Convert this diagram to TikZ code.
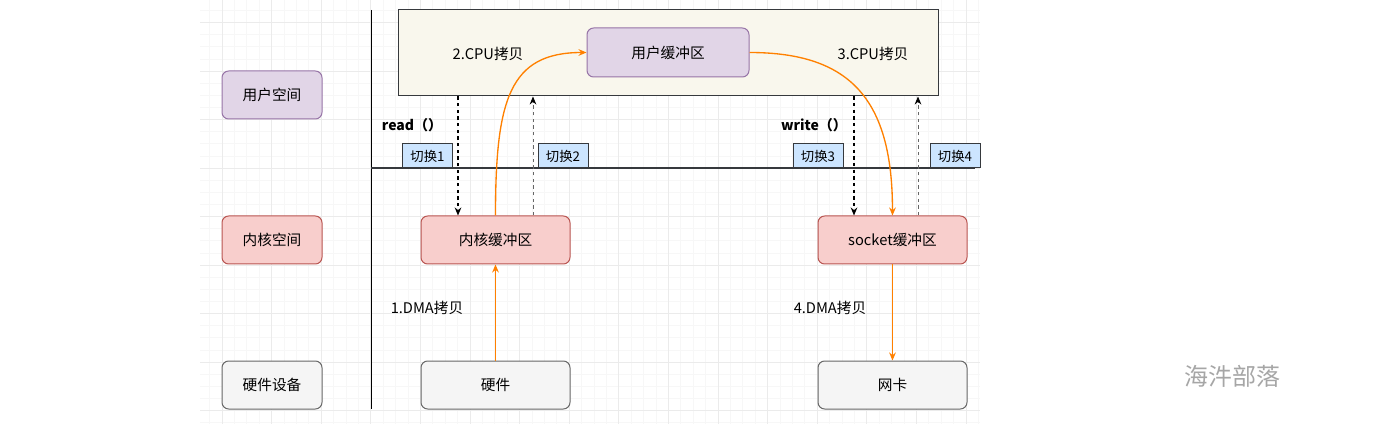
\documentclass[tikz,border=0pt]{standalone}
\usepackage{fontspec}
\setmainfont{Noto Sans CJK SC}
\usetikzlibrary{calc,arrows.meta}
\definecolor{purfill}{HTML}{E1D5E7}\definecolor{purline}{HTML}{9673A6}
\definecolor{redfill}{HTML}{F8CECC}\definecolor{redline}{HTML}{B85450}
\definecolor{grayfill}{HTML}{F5F5F5}\definecolor{grayline}{HTML}{666666}
\definecolor{userfill}{HTML}{F9F7ED}\definecolor{darkline}{HTML}{36393D}
\definecolor{swfill}{HTML}{CCE5FF}\definecolor{copyline}{HTML}{FF8000}

\begin{document}
\begin{tikzpicture}[x=0.75pt, y=-0.75pt, font=\fontsize{11}{13}\selectfont,
  box/.style={rounded corners=5pt, line width=0.75pt, inner sep=0pt, minimum height=36pt},
  lbl/.style={box, minimum width=75pt},
  buf/.style={box, minimum width=111.75pt},
  swbox/.style={draw=darkline, fill=swfill, line width=0.75pt, inner sep=0pt, minimum width=37.5pt, minimum height=18pt, font=\fontsize{10}{11}\selectfont},
  copy/.style={draw=copyline, line width=1pt, -{Stealth[length=6pt,width=5pt]}},
  enter/.style={draw=black, line width=1.2pt, dash pattern=on 2.5pt off 2.5pt, -{Stealth[length=6pt,width=5pt]}},
  leave/.style={draw=grayline, line width=0.75pt, dash pattern=on 2.5pt off 2.5pt, -{Stealth[length=6pt,width=5pt,color=black]}}]
\useasboundingbox (0,0) rectangle (1379,424);
% grid background
\begin{scope}
\clip (200,0) rectangle (980,424);
\foreach \k [evaluate=\k as \gx using 222+12.4*\k] in {-2,...,61} \draw[black!3, line width=0.5pt] (\gx,0) -- (\gx,424);
\foreach \k [evaluate=\k as \gy using 22.5+12.125*\k] in {-2,...,33} \draw[black!3, line width=0.5pt] (200,\gy) -- (980,\gy);
\foreach \k [evaluate=\k as \gx using 222+49.6*\k] in {0,...,15} \draw[black!8, line width=0.6pt] (\gx,0) -- (\gx,424);
\foreach \k [evaluate=\k as \gy using 22.5+48.5*\k] in {0,...,8} \draw[black!8, line width=0.6pt] (200,\gy) -- (980,\gy);
\end{scope}
% left labels
\node[lbl, draw=purline, fill=purfill] (userspace) at (272,95) {用户空间};
\node[lbl, draw=redline, fill=redfill] (kernelspace) at (272,240) {内核空间};
\node[lbl, draw=grayline, fill=grayfill] (hwlabel) at (272,385) {硬件设备};
\draw[line width=0.75pt] (371,10) -- (371,409);
\draw[line width=1.2pt, darkline] (371,168) -- (975,168);
% user space
\node[draw=darkline, fill=userfill, line width=0.75pt, minimum width=405pt, minimum height=64.5pt, inner sep=0pt] (ubox) at (668,53) {};
\node[box, draw=purline, fill=purfill, minimum width=121.5pt, minimum height=36.75pt] (ubuf) at (668,52.5) {用户缓冲区};
\node (cpu2) at (488,54) {2.CPU拷贝};
\node (cpu3) at (873,54) {3.CPU拷贝};
% kernel and hardware
\node[buf, draw=redline, fill=redfill] (kbuf) at (495.5,240) {内核缓冲区};
\node[buf, draw=redline, fill=redfill] (sbuf) at (892.5,240) {socket缓冲区};
\node[buf, draw=grayline, fill=grayfill] (hw) at (495.5,385) {硬件};
\node[buf, draw=grayline, fill=grayfill] (nic) at (892.5,385) {网卡};
\node (dma1) at (427,308) {1.DMA拷贝};
\node (dma4) at (830,308) {4.DMA拷贝};
% switches
\node[font=\bfseries\fontsize{10.5}{12}\selectfont] (rd) at (412,125) {read（）};
\node[font=\bfseries\fontsize{10.5}{12}\selectfont] (wr) at (814,125) {write（）};
\node[swbox] (sw1) at (427.5,156) {切换1};
\node[swbox] (sw2) at (563,156) {切换2};
\node[swbox] (sw3) at (818,156) {切换3};
\node[swbox] (sw4) at (955,156) {切换4};
\draw[enter] ($(ubox.south)+(-210,0)$) -- ($(kbuf.north)+(-37.5,0)$);
\draw[leave] ($(kbuf.north)+(37.5,0)$) -- ($(ubox.south)+(-135,0)$);
\draw[enter] ($(ubox.south)+(186,0)$) -- ($(sbuf.north)+(-38.5,0)$);
\draw[leave] ($(sbuf.north)+(25.5,0)$) -- ($(ubox.south)+(250,0)$);
% copies
\draw[copy] (hw.north) -- (kbuf.south);
\draw[copy] (kbuf.north) .. controls ($(kbuf.north)+(0,-116)$) and ($(ubuf.west)+(-77,0)$) .. (ubuf.west);
\draw[copy] (ubuf.east) .. controls ($(ubuf.east)+(101,0)$) and ($(sbuf.north)+(0,-116)$) .. (sbuf.north);
\draw[copy] (sbuf.south) -- (nic.north);
\node[text=black!35, font=\fontsize{18}{21}\selectfont] (mark) at (1232,376) {海汼部落};
\end{tikzpicture}
\end{document}
